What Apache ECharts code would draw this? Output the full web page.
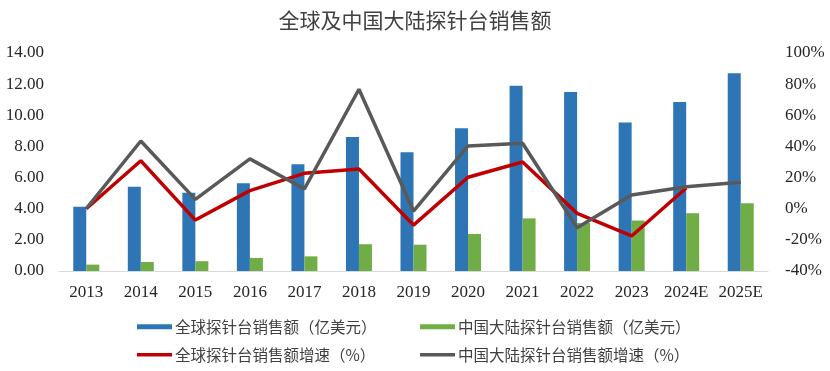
<!DOCTYPE html>
<html>
<head>
<meta charset="utf-8">
<script src="https://cdn.jsdelivr.net/npm/echarts@6/dist/echarts.min.js"></script>
<style>html,body{margin:0;padding:0;background:#fff;}#c{width:830px;height:371px;}</style>
</head>
<body>
<div id="c"></div>
<script>
const categories = ['2013','2014','2015','2016','2017','2018','2019','2020','2021','2022','2023','2024E','2025E'];
const globalSales = [4.13, 5.41, 5.03, 5.63, 6.85, 8.60, 7.62, 9.16, 11.90, 11.50, 9.53, 10.85, 12.70];
const chinaSales = [0.41, 0.58, 0.63, 0.84, 0.94, 1.72, 1.69, 2.38, 3.38, 3.08, 3.24, 3.71, 4.35];
const globalGrowth = [0, 30.8, -7.3, 11.6, 22.7, 25.5, -10.5, 20.2, 30.0, -3.0, -17.5, 13.3, null];
const chinaGrowth = [0, 43.5, 6.0, 32.0, 12.7, 76.7, -1.5, 40.3, 42.0, -12.2, 8.8, 14.1, 17.0];
const leftTicks = {min: 0, max: 14, interval: 2};
const rightTicks = {min: -40, max: 100, interval: 20};
const names = ['全球探针台销售额（亿美元）','中国大陆探针台销售额（亿美元）','全球探针台销售额增速（%）','中国大陆探针台销售额增速（%）'];

const serif = '"Liberation Serif", "Times New Roman", serif';
const cjk = '"Noto Sans CJK SC", sans-serif';
const chart = echarts.init(document.getElementById('c'));
function lg(name, left, top, h) {
  return {
    data: [name], left: left, top: top, icon: 'rect', itemWidth: 35, itemHeight: h,
    itemGap: 0, padding: 0,
    textStyle: {fontFamily: cjk, fontSize: 15.5, color: '#404040', padding: [0, 0, 0, -2]}
  };
}
chart.setOption({
  animation: false,
  title: {
    text: '全球及中国大陆探针台销售额', left: 'center', top: 5,
    textStyle: {fontFamily: cjk, fontSize: 21, fontWeight: 'normal', color: '#404040'}
  },
  legend: [
    lg(names[0], 137, 319, 5),
    lg(names[1], 420, 319, 5),
    lg(names[2], 137, 347, 3.5),
    lg(names[3], 420, 347, 3.5)
  ],
  grid: {left: 59, right: 62, top: 53, bottom: 100},
  xAxis: {
    type: 'category', data: categories,
    axisLine: {lineStyle: {color: '#D9D9D9', width: 1}},
    axisTick: {show: false},
    axisLabel: {fontFamily: serif, fontSize: 17, color: '#262626', margin: 13, interval: 0}
  },
  yAxis: [
    {
      type: 'value', min: leftTicks.min, max: leftTicks.max, interval: leftTicks.interval,
      splitLine: {show: false}, axisLine: {show: false}, axisTick: {show: false},
      axisLabel: {fontFamily: serif, fontSize: 17, color: '#262626', margin: 15,
        formatter: v => v.toFixed(2)}
    },
    {
      type: 'value', min: rightTicks.min, max: rightTicks.max, interval: rightTicks.interval,
      splitLine: {show: false}, axisLine: {show: false}, axisTick: {show: false},
      axisLabel: {fontFamily: serif, fontSize: 17, color: '#262626', margin: 17,
        formatter: v => v + '%'}
    }
  ],
  series: [
    {name: names[0], type: 'bar', data: globalSales, barWidth: 13, barGap: '0%',
      itemStyle: {color: '#2E75B6'}},
    {name: names[1], type: 'bar', data: chinaSales, barWidth: 13, barGap: '0%',
      itemStyle: {color: '#70AD47'}},
    {name: names[2], type: 'line', yAxisIndex: 1, data: globalGrowth, showSymbol: false,
      symbol: 'none', z: 5, lineStyle: {color: '#C00000', width: 3.5}, itemStyle: {color: '#C00000'}},
    {name: names[3], type: 'line', yAxisIndex: 1, data: chinaGrowth, showSymbol: false,
      symbol: 'none', z: 6, lineStyle: {color: '#595959', width: 3.5}, itemStyle: {color: '#595959'}}
  ]
});
</script>
</body>
</html>
